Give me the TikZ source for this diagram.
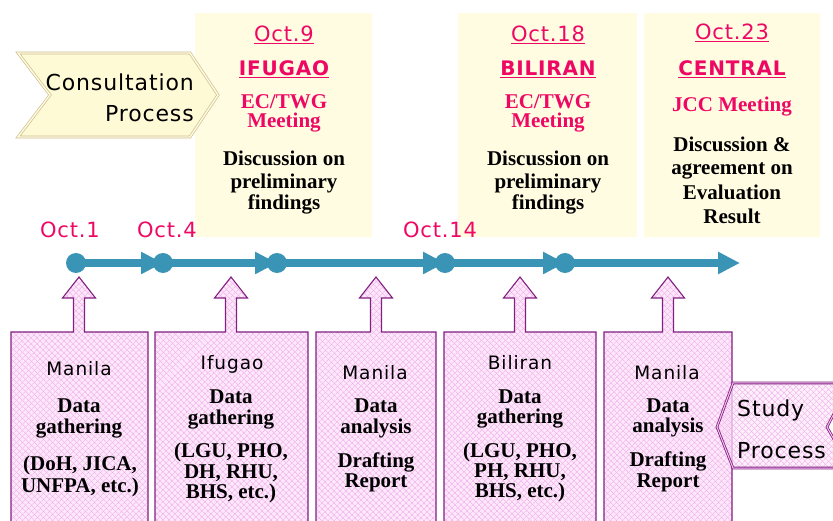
\documentclass[tikz,border=0pt]{standalone}
\usepackage{fontspec}
\setmainfont{Liberation Serif}
\newfontfamily\datefont[LetterSpace=4]{DejaVu Sans}
\newfontfamily\placefont[LetterSpace=4]{DejaVu Sans}
\newfontfamily\tagfont[LetterSpace=4]{DejaVu Sans}
\newfontfamily\cityfont[LetterSpace=5]{DejaVu Sans}
\usetikzlibrary{arrows.meta,patterns.meta}

\definecolor{hot}{RGB}{238,8,100}
\definecolor{cream}{RGB}{255,252,226}
\definecolor{chevfill}{RGB}{255,250,214}
\definecolor{chevline}{RGB}{205,190,140}
\definecolor{tlblue}{RGB}{58,148,182}
\definecolor{boxline}{RGB}{128,32,128}
\definecolor{pinkbg}{RGB}{252,232,250}
\definecolor{pinkln}{RGB}{240,168,232}

% box with an upward arrow on its top edge: left, right, arrow centre
\newcommand\calloutbox[3]{%
  \draw[hatch, boxedge]
    (#1,332) -- ({#3-5.5},332) -- ({#3-5.5},298) -- ({#3-16.5},298)
    -- (#3,277) -- ({#3+16.5},298) -- ({#3+5.5},298) -- ({#3+5.5},332)
    -- (#2,332) -- (#2,540) -- (#1,540) -- cycle;}

\begin{document}
\begin{tikzpicture}[x=1pt,y=-1pt,
  meetbox/.style={fill=cream},
  chev/.style={fill=chevfill, draw=chevline, double=chevfill!70!white,
    double distance=1.4pt, line width=0.7pt},
  hatch/.style={preaction={fill=pinkbg},
    preaction={pattern={Lines[angle=45,distance=4pt,line width=0.6pt]}, pattern color=pinkln},
    pattern={Lines[angle=-45,distance=4pt,line width=0.6pt]}, pattern color=pinkln},
  studyhatch/.style={preaction={fill=pinkbg, fill opacity=0.7},
    preaction={pattern={Lines[angle=45,distance=4pt,line width=0.6pt]}, pattern color=pinkln},
    pattern={Lines[angle=-45,distance=4pt,line width=0.6pt]}, pattern color=pinkln},
  boxedge/.style={draw=boxline, line width=1.1pt},
  tline/.style={draw=tlblue, line width=8pt, -{Triangle[length=22pt,width=21pt]}},
  dot/.style={circle, fill=tlblue, minimum size=20pt, inner sep=0pt},
  lbl/.style={anchor=base, inner sep=0pt},
  date/.style={lbl, text=hot, font=\datefont\fontsize{21}{24}\selectfont},
  place/.style={lbl, text=hot, font=\placefont\bfseries\fontsize{20}{24}\selectfont},
  hotserif/.style={lbl, text=hot, font=\bfseries\fontsize{21}{24}\selectfont},
  blkserif/.style={lbl, text=black, font=\bfseries\fontsize{21}{24}\selectfont},
  city/.style={lbl, text=black, font=\cityfont\fontsize{18.5}{22}\selectfont},
  tag/.style={inner sep=0pt, text=black, font=\tagfont\fontsize{22}{26}\selectfont},
]
\useasboundingbox (0,0) rectangle (833,521);
\clip (0,0) rectangle (833,521);

% meeting panels
\fill[meetbox] (195,13) rectangle (372,237);
\fill[meetbox] (458,13) rectangle (637,237);
\fill[meetbox] (644,13) rectangle (820,237);

% consultation chevron
\draw[chev] (18,53) -- (190,53) -- (218,95) -- (190,137) -- (18,137) -- (50,95) -- cycle;
\node[tag, anchor=base east] (cons1) at (194,91) {Consultation};
\node[tag, anchor=base east] (cons2) at (194,122) {Process};

% timeline
\coordinate (t1) at (76,263);
\coordinate (t2) at (163,263);
\coordinate (t3) at (277,263);
\coordinate (t4) at (445,263);
\coordinate (t5) at (565,263);
\coordinate (tend) at (740,263);
\draw[tline] (t1) -- (t2);
\draw[tline] (t2) -- (t3);
\draw[tline] (t3) -- (t4);
\draw[tline] (t4) -- (t5);
\draw[tline] (t5) -- (tend);
\node[dot] (d1) at (t1) {};
\node[dot] (d2) at (t2) {};
\node[dot] (d3) at (t3) {};
\node[dot] (d4) at (t4) {};
\node[dot] (d5) at (t5) {};

\node[date] (oct1) at (70,238) {Oct.1};
\node[date] (oct4) at (167,238) {Oct.4};
\node[date] (oct14) at (440,238) {Oct.14};

% study boxes
\calloutbox{11}{148}{79}
\calloutbox{155}{308}{231}
\calloutbox{316}{436}{376}
\calloutbox{444}{596}{520}
\calloutbox{604}{732}{668}

% study chevron
\draw[studyhatch, draw=boxline, double=pinkln!70!white, double distance=1pt, line width=0.8pt]
  (717,427) -- (733,383) -- (850,383) -- (827,427) -- (850,468) -- (733,468) -- cycle;
\node[tag, anchor=base west] (study1) at (737,417) {Study};
\node[tag, anchor=base west] (study2) at (737,458) {Process};

% first panel
\node[date] (oct9) at (284,42) {\underline{Oct.9}};
\node[place] (ifugao) at (284,76) {\underline{IFUGAO}};
\node[hotserif] (ec1) at (284,109) {EC/TWG};
\node[hotserif] (mt1) at (284,128) {Meeting};
\node[blkserif] (dis1) at (284,166) {Discussion on};
\node[blkserif] (pre1) at (284,189) {preliminary};
\node[blkserif] (fin1) at (284,210) {findings};

% second panel
\node[date] (oct18) at (548,42) {\underline{Oct.18}};
\node[place] (biliran) at (548,76) {\underline{BILIRAN}};
\node[hotserif] (ec2) at (548,109) {EC/TWG};
\node[hotserif] (mt2) at (548,128) {Meeting};
\node[blkserif] (dis2) at (548,166) {Discussion on};
\node[blkserif] (pre2) at (548,189) {preliminary};
\node[blkserif] (fin2) at (548,210) {findings};

% third panel
\node[date] (oct23) at (732,40) {\underline{Oct.23}};
\node[place] (central) at (732,76) {\underline{CENTRAL}};
\node[hotserif] (jcc) at (732,112) {JCC Meeting};
\node[blkserif] (dis3) at (732,152) {Discussion \&};
\node[blkserif] (agr3) at (732,175) {agreement on};
\node[blkserif] (eva3) at (732,200) {Evaluation};
\node[blkserif] (res3) at (732,224) {Result};

% box A
\node[city] (cA) at (79,375) {Manila};
\node[blkserif] (a1) at (79,412) {Data};
\node[blkserif] (a2) at (79,433) {gathering};
\node[blkserif] (a3) at (80,470) {(DoH, JICA,};
\node[blkserif] (a4) at (80,492) {UNFPA, etc.)};

% box B
\node[city] (cB) at (232,370) {Ifugao};
\node[blkserif] (b1) at (231,403) {Data};
\node[blkserif] (b2) at (231,424) {gathering};
\node[blkserif] (b3) at (231,457) {(LGU, PHO,};
\node[blkserif] (b4) at (231,478) {DH, RHU,};
\node[blkserif] (b5) at (231,498) {BHS, etc.)};

% box C
\node[city] (cC) at (375,380) {Manila};
\node[blkserif] (c1) at (376,413) {Data};
\node[blkserif] (c2) at (376,433) {analysis};
\node[blkserif] (c3) at (376,467) {Drafting};
\node[blkserif] (c4) at (376,487) {Report};

% box D
\node[city] (cD) at (520,370) {Biliran};
\node[blkserif] (e1) at (520,403) {Data};
\node[blkserif] (e2) at (520,423) {gathering};
\node[blkserif] (e3) at (520,457) {(LGU, PHO,};
\node[blkserif] (e4) at (520,477) {PH, RHU,};
\node[blkserif] (e5) at (520,497) {BHS, etc.)};

% box E
\node[city] (cE) at (667,380) {Manila};
\node[blkserif] (f1) at (668,413) {Data};
\node[blkserif] (f2) at (668,432) {analysis};
\node[blkserif] (f3) at (668,466) {Drafting};
\node[blkserif] (f4) at (668,487) {Report};
\end{tikzpicture}
\end{document}
